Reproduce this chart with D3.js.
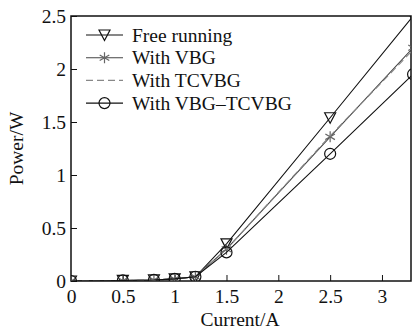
<!DOCTYPE html>
<html>
<head>
<meta charset="utf-8">
<script src="https://cdn.jsdelivr.net/npm/d3@7"></script>
<style>
  html, body { margin: 0; padding: 0; background: #fff; }
  svg text { font-family: "Liberation Serif", "DejaVu Serif", serif; fill: #111; }
</style>
</head>
<body>
<svg id="chart" width="412" height="331"></svg>
<script>
// Data
const current = [0, 0.5, 0.8, 1, 1.2, 1.5, 2.5, 3.3];
const freeRunning = [0, 0.005, 0.01, 0.02, 0.04, 0.35, 1.54, 2.5];
const withVBG = [0, 0.005, 0.01, 0.02, 0.04, 0.3, 1.36, 2.2];
const withTCVBG = [0, 0.005, 0.01, 0.02, 0.04, 0.3, 1.37, 2.18];
const withVBGTCVBG = [0, 0.005, 0.01, 0.02, 0.04, 0.27, 1.2, 1.95];
const xTicks = [0, 0.5, 1, 1.5, 2, 2.5, 3];
const yTicks = [0, 0.5, 1, 1.5, 2, 2.5];
const seriesNames = ['Free running', 'With VBG', 'With TCVBG', 'With VBG\u2013TCVBG'];

const svg = d3.select('#chart');
const margin = { left: 71, right: 1, top: 16, bottom: 50 };
const width = 412 - margin.left - margin.right;
const height = 331 - margin.top - margin.bottom;
const fs = '19.5px';

const x = d3.scaleLinear().domain([0, 3.28]).range([0, width]);
const y = d3.scaleLinear().domain([0, 2.5]).range([height, 0]);

const g = svg.append('g').attr('transform', `translate(${margin.left},${margin.top})`);

svg.append('defs').append('clipPath').attr('id', 'clip')
  .append('rect').attr('width', width).attr('height', height);

// axes with inward ticks
const xAxis = g.append('g')
  .attr('transform', `translate(0,${height})`)
  .call(d3.axisBottom(x).tickValues(xTicks).tickSize(-6).tickPadding(8).tickFormat(d3.format('')));
const yAxis = g.append('g')
  .call(d3.axisLeft(y).tickValues(yTicks).tickSize(-6).tickPadding(5).tickFormat(d3.format('')));
[xAxis, yAxis].forEach(a => {
  a.select('.domain').remove();
  a.selectAll('line').attr('stroke', '#111');
  a.selectAll('text').style('font-size', fs).attr('fill', '#111');
});

// frame
g.append('rect').attr('width', width).attr('height', height)
  .attr('fill', 'none').attr('stroke', '#111').attr('stroke-width', 1.5);

const rows = current.map((c, i) => ({ c, i }));
const series = [
  { name: seriesNames[0], vals: freeRunning, color: '#111', dash: null, marker: 'tri' },
  { name: seriesNames[1], vals: withVBG, color: '#444', dash: null, marker: 'star' },
  { name: seriesNames[2], vals: withTCVBG, color: '#888', dash: '7,4', marker: 'none' },
  { name: seriesNames[3], vals: withVBGTCVBG, color: '#111', dash: null, marker: 'circ' }
];

const line = d3.line().x(d => x(d.c)).y(d => d.y);

const plot = g.append('g').attr('clip-path', 'url(#clip)');

function drawMarker(sel, type, color) {
  if (type === 'tri') {
    sel.append('path').attr('d', 'M-5.5,-5L5.5,-5L0,5.5Z')
      .attr('fill', 'none').attr('stroke', color).attr('stroke-width', 1.2);
  } else if (type === 'star') {
    sel.append('path').attr('d', 'M0,-5.5L0,5.5M-4.8,-2.8L4.8,2.8M-4.8,2.8L4.8,-2.8')
      .attr('fill', 'none').attr('stroke', '#666').attr('stroke-width', 1.2);
  } else if (type === 'circ') {
    sel.append('circle').attr('r', 5.5)
      .attr('fill', 'none').attr('stroke', color).attr('stroke-width', 1.2);
  }
}

series.forEach(s => {
  const pts = rows.map(r => ({ c: r.c, y: y(s.vals[r.i]) }));
  plot.append('path').datum(pts).attr('d', line)
    .attr('fill', 'none').attr('stroke', s.color).attr('stroke-width', 1.1)
    .attr('stroke-dasharray', s.dash);
  plot.selectAll(null).data(pts).enter().append('g')
    .attr('transform', d => `translate(${x(d.c)},${d.y})`)
    .each(function () { drawMarker(d3.select(this), s.marker, s.color); });
});

// legend
const legend = g.append('g').attr('transform', 'translate(15,19)');
series.forEach((s, i) => {
  const row = legend.append('g').attr('transform', `translate(0,${i * 22.7})`);
  row.append('line').attr('x1', 0).attr('x2', 37).attr('y1', 0).attr('y2', 0)
    .attr('stroke', s.color).attr('stroke-width', 1.1).attr('stroke-dasharray', s.dash);
  const m = row.append('g').attr('transform', 'translate(18.5,0)');
  drawMarker(m, s.marker, s.color);
  row.append('text').attr('x', 46).attr('y', 6.5).style('font-size', fs).text(s.name);
});

// axis labels
svg.append('text').attr('x', margin.left + x(1.63)).attr('y', 326)
  .attr('text-anchor', 'middle').style('font-size', fs).text('Current/A');
svg.append('text').attr('transform', `translate(23,${margin.top + y(1.25)}) rotate(-90)`)
  .attr('text-anchor', 'middle').style('font-size', fs).text('Power/W');
</script>
</body>
</html>
